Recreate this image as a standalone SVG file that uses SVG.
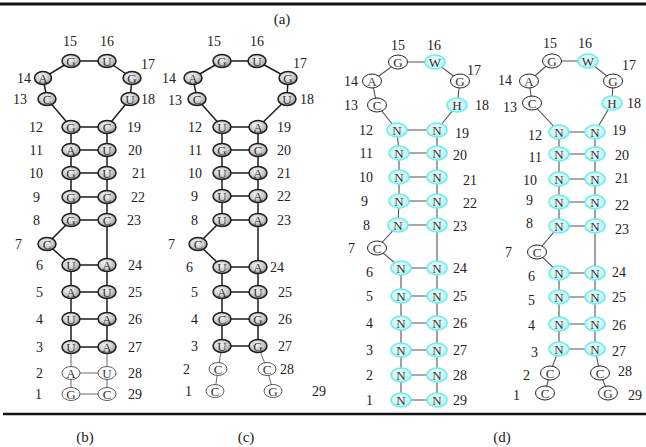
<svg xmlns="http://www.w3.org/2000/svg" width="646" height="447" viewBox="0 0 646 447" font-family="'Liberation Serif', 'Times New Roman', Times, serif">
<defs>
<radialGradient id="gg" cx="0.42" cy="0.38" r="0.65">
<stop offset="0" stop-color="#f4f4f4"/><stop offset="0.55" stop-color="#d0d0d0"/><stop offset="1" stop-color="#959595"/>
</radialGradient>
<radialGradient id="cg" cx="0.45" cy="0.4" r="0.65">
<stop offset="0" stop-color="#effefe"/><stop offset="1" stop-color="#b8f2f2"/>
</radialGradient>
</defs>
<style>
text{font-family:'Liberation Serif','Times New Roman',Times,serif;fill:#222}
.node text{font-size:13px;text-anchor:middle;fill:#333}
.g ellipse{fill:url(#gg);stroke:#1c1c1c;stroke-width:1.5}
.w ellipse{fill:#fff;stroke:#333;stroke-width:0.8}
.wd ellipse{fill:#fff;stroke:#222;stroke-width:1}
.c ellipse{fill:url(#cg);stroke:#6eeeee;stroke-width:1.6}
.lk{fill:none;stroke:#1c1c1c;stroke-width:1.5}
.lt{fill:none;stroke:#444;stroke-width:0.8}
.ld{fill:none;stroke:#555;stroke-width:1.1}
.num{font-size:14px}
.e{text-anchor:end}
.m{text-anchor:middle}
.cap{font-size:15px;text-anchor:middle}
</style>
<g id="rules">
<line x1="0" y1="4" x2="646" y2="4" stroke="#111" stroke-width="3"/>
<line x1="3" y1="414" x2="646" y2="414" stroke="#111" stroke-width="2.5"/>
</g>
<g id="connectors">
<path class="lk" d="M71,61 H107 M71,61 L43,78 L47,99 L71,127 M107,61 L132,78 L130,99 L107,127 M71,127 V220 L47,244 L71,265 V347 M107,127 V347 M71,127 H107 M71,150 H107 M71,173 H107 M71,197 H107 M71,220 H107 M71,265 H107 M71,292 H107 M71,319 H107 M71,347 H107"/>
<path class="lt" d="M71,347 V394 M107,347 V394 M71,373 H107 M71,394 H107"/>
<path class="lk" d="M222,61 H257 M222,61 L193,78 L197,99 L222,127 M257,61 L288,78 L287,99 L258,127 M222,127 V220 L198,244 L222,267 V346 M258,127 V346 M222,127 H258 M222,150 H258 M222,173 H258 M222,196 H258 M222,220 H258 M222,267 H258 M222,292 H258 M222,319 H258 M222,346 H258"/>
<path class="lt" d="M222,346 L218,369 L215,391 M258,346 L267,369 L273,391"/>
<path class="ld" d="M398,62 H435 M398,62 L372,81 L377,105 L397,130 M435,62 L460,81 L457,105 L437,130 M397,130 L399,153 V201 L398,225 L377,248 L401,268 V400 M437,130 V400 M397,130 H437 M399,153 H437 M399,177 H437 M399,201 H437 M398,225 H437 M401,268 H437 M401,296 H437 M401,323 H437 M401,350 H437 M401,375 H437 M401,400 H437"/>
<path class="ld" d="M552,61 H588 M552,61 L529,81 L532,103 L559,132 M588,61 L613,81 L612,103 L595,132 M559,132 V226 L537,252 L559,273 V349 L550,373 L545,393 M595,132 V349 L600,373 L608,393 M559,132 H595 M559,154 H595 M559,179 H595 M559,202 H595 M559,226 H595 M559,273 H595 M559,297 H595 M559,324 H595 M559,349 H595"/>
</g>
<!-- panel b -->
<g id="b15" class="node g"><ellipse cx="71" cy="61" rx="9" ry="6.5"/><text x="71" y="65.5">G</text></g>
<g id="b16" class="node g"><ellipse cx="107" cy="61" rx="9" ry="6.5"/><text x="107" y="65.5">U</text></g>
<g id="b14" class="node g"><ellipse cx="43" cy="78" rx="8.5" ry="6.5"/><text x="43" y="82.5">A</text></g>
<g id="b17" class="node g"><ellipse cx="132" cy="78" rx="9" ry="6.5"/><text x="132" y="82.5">G</text></g>
<g id="b13" class="node g"><ellipse cx="47" cy="99" rx="9" ry="6.5"/><text x="47" y="103.5">C</text></g>
<g id="b18" class="node g"><ellipse cx="130" cy="99" rx="9" ry="6.5"/><text x="130" y="103.5">U</text></g>
<g id="b12" class="node g"><ellipse cx="71" cy="127" rx="9" ry="6.5"/><text x="71" y="131.5">G</text></g>
<g id="b19" class="node g"><ellipse cx="107" cy="127" rx="9" ry="6.5"/><text x="107" y="131.5">C</text></g>
<g id="b11" class="node g"><ellipse cx="71" cy="150" rx="9" ry="6.5"/><text x="71" y="154.5">A</text></g>
<g id="b20" class="node g"><ellipse cx="107" cy="150" rx="9" ry="6.5"/><text x="107" y="154.5">U</text></g>
<g id="b10" class="node g"><ellipse cx="71" cy="173" rx="9" ry="6.5"/><text x="71" y="177.5">G</text></g>
<g id="b21" class="node g"><ellipse cx="107" cy="173" rx="9" ry="6.5"/><text x="107" y="177.5">U</text></g>
<g id="b9" class="node g"><ellipse cx="71" cy="197" rx="9" ry="6.5"/><text x="71" y="201.5">G</text></g>
<g id="b22" class="node g"><ellipse cx="107" cy="197" rx="9" ry="6.5"/><text x="107" y="201.5">C</text></g>
<g id="b8" class="node g"><ellipse cx="71" cy="220" rx="9" ry="6.5"/><text x="71" y="224.5">G</text></g>
<g id="b23" class="node g"><ellipse cx="107" cy="220" rx="9" ry="6.5"/><text x="107" y="224.5">C</text></g>
<g id="b7" class="node g"><ellipse cx="47" cy="244" rx="9" ry="6.5"/><text x="47" y="248.5">C</text></g>
<g id="b6" class="node g"><ellipse cx="71" cy="265" rx="9" ry="6.5"/><text x="71" y="269.5">U</text></g>
<g id="b24" class="node g"><ellipse cx="107" cy="265" rx="9" ry="6.5"/><text x="107" y="269.5">A</text></g>
<g id="b5" class="node g"><ellipse cx="71" cy="292" rx="9" ry="6.5"/><text x="71" y="296.5">A</text></g>
<g id="b25" class="node g"><ellipse cx="107" cy="292" rx="9" ry="6.5"/><text x="107" y="296.5">U</text></g>
<g id="b4" class="node g"><ellipse cx="71" cy="319" rx="9" ry="6.5"/><text x="71" y="323.5">U</text></g>
<g id="b26" class="node g"><ellipse cx="107" cy="319" rx="9" ry="6.5"/><text x="107" y="323.5">A</text></g>
<g id="b3" class="node g"><ellipse cx="71" cy="347" rx="9" ry="6.5"/><text x="71" y="351.5">U</text></g>
<g id="b27" class="node g"><ellipse cx="107" cy="347" rx="9" ry="6.5"/><text x="107" y="351.5">A</text></g>
<g id="b2" class="node w"><ellipse cx="71" cy="373" rx="9" ry="6.5"/><text x="71" y="377.5">A</text></g>
<g id="b28" class="node w"><ellipse cx="107" cy="373" rx="9" ry="6.5"/><text x="107" y="377.5">U</text></g>
<g id="b1" class="node w"><ellipse cx="71" cy="394" rx="9" ry="6.5"/><text x="71" y="398.5">G</text></g>
<g id="b29" class="node w"><ellipse cx="107" cy="394" rx="9" ry="6.5"/><text x="107" y="398.5">C</text></g>
<g id="b-labels" class="num">
<text x="70" y="46" class="m">15</text><text x="107" y="46" class="m">16</text>
<text x="141" y="69">17</text><text x="31" y="83" class="e">14</text><text x="27" y="104" class="e">13</text><text x="141" y="104">18</text>
<text x="43" y="132" class="e">12</text><text x="43" y="155" class="e">11</text><text x="43" y="178" class="e">10</text><text x="40" y="202" class="e">9</text><text x="40" y="225" class="e">8</text>
<text x="127" y="132">19</text><text x="128" y="155">20</text><text x="132" y="178">21</text><text x="131" y="202">22</text><text x="127" y="225">23</text>
<text x="22" y="249" class="e">7</text><text x="43" y="270" class="e">6</text><text x="43" y="297" class="e">5</text><text x="43" y="324" class="e">4</text><text x="43" y="352" class="e">3</text><text x="43" y="378" class="e">2</text><text x="42" y="399" class="e">1</text>
<text x="128" y="270">24</text><text x="128" y="297">25</text><text x="128" y="324">26</text><text x="128" y="352">27</text><text x="128" y="378">28</text><text x="128" y="399">29</text>
</g>
<!-- panel c -->
<g id="c15" class="node g"><ellipse cx="222" cy="61" rx="9" ry="6.5"/><text x="222" y="65.5">G</text></g>
<g id="c16" class="node g"><ellipse cx="257" cy="61" rx="9" ry="6.5"/><text x="257" y="65.5">U</text></g>
<g id="c14" class="node g"><ellipse cx="193" cy="78" rx="9" ry="6.5"/><text x="193" y="82.5">A</text></g>
<g id="c17" class="node g"><ellipse cx="288" cy="78" rx="9" ry="6.5"/><text x="288" y="82.5">G</text></g>
<g id="c13" class="node g"><ellipse cx="197" cy="99" rx="9" ry="6.5"/><text x="197" y="103.5">C</text></g>
<g id="c18" class="node g"><ellipse cx="287" cy="99" rx="9" ry="6.5"/><text x="287" y="103.5">U</text></g>
<g id="c12" class="node g"><ellipse cx="222" cy="127" rx="9" ry="6.5"/><text x="222" y="131.5">U</text></g>
<g id="c19" class="node g"><ellipse cx="258" cy="127" rx="9" ry="6.5"/><text x="258" y="131.5">A</text></g>
<g id="c11" class="node g"><ellipse cx="222" cy="150" rx="9" ry="6.5"/><text x="222" y="154.5">G</text></g>
<g id="c20" class="node g"><ellipse cx="258" cy="150" rx="9" ry="6.5"/><text x="258" y="154.5">C</text></g>
<g id="c10" class="node g"><ellipse cx="222" cy="173" rx="9" ry="6.5"/><text x="222" y="177.5">U</text></g>
<g id="c21" class="node g"><ellipse cx="258" cy="173" rx="9" ry="6.5"/><text x="258" y="177.5">A</text></g>
<g id="c9" class="node g"><ellipse cx="222" cy="196" rx="9" ry="6.5"/><text x="222" y="200.5">U</text></g>
<g id="c22" class="node g"><ellipse cx="258" cy="196" rx="9" ry="6.5"/><text x="258" y="200.5">A</text></g>
<g id="c8" class="node g"><ellipse cx="222" cy="220" rx="9" ry="6.5"/><text x="222" y="224.5">U</text></g>
<g id="c23" class="node g"><ellipse cx="258" cy="220" rx="9" ry="6.5"/><text x="258" y="224.5">A</text></g>
<g id="c7" class="node g"><ellipse cx="198" cy="244" rx="9" ry="6.5"/><text x="198" y="248.5">C</text></g>
<g id="c6" class="node g"><ellipse cx="222" cy="267" rx="9" ry="6.5"/><text x="222" y="271.5">U</text></g>
<g id="c24" class="node g"><ellipse cx="258" cy="267" rx="9" ry="6.5"/><text x="258" y="271.5">A</text></g>
<g id="c5" class="node g"><ellipse cx="222" cy="292" rx="9" ry="6.5"/><text x="222" y="296.5">A</text></g>
<g id="c25" class="node g"><ellipse cx="258" cy="292" rx="9" ry="6.5"/><text x="258" y="296.5">U</text></g>
<g id="c4" class="node g"><ellipse cx="222" cy="319" rx="9" ry="6.5"/><text x="222" y="323.5">C</text></g>
<g id="c26" class="node g"><ellipse cx="258" cy="319" rx="9" ry="6.5"/><text x="258" y="323.5">G</text></g>
<g id="c3" class="node g"><ellipse cx="222" cy="346" rx="9" ry="6.5"/><text x="222" y="350.5">U</text></g>
<g id="c27" class="node g"><ellipse cx="258" cy="346" rx="9" ry="6.5"/><text x="258" y="350.5">G</text></g>
<g id="c2" class="node w"><ellipse cx="218" cy="369" rx="9" ry="6.5"/><text x="218" y="373.5">C</text></g>
<g id="c28" class="node w"><ellipse cx="267" cy="369" rx="9" ry="6.5"/><text x="267" y="373.5">C</text></g>
<g id="c1" class="node w"><ellipse cx="215" cy="391" rx="9" ry="6.5"/><text x="215" y="395.5">C</text></g>
<g id="c29" class="node w"><ellipse cx="273" cy="391" rx="9" ry="6.5"/><text x="273" y="395.5">G</text></g>
<g id="c-labels" class="num">
<text x="214" y="46" class="m">15</text><text x="257" y="46" class="m">16</text>
<text x="293" y="68">17</text><text x="176" y="83" class="e">14</text><text x="182" y="105" class="e">13</text><text x="300" y="104">18</text>
<text x="202" y="132" class="e">12</text><text x="202" y="155" class="e">11</text><text x="202" y="178" class="e">10</text><text x="198" y="201" class="e">9</text><text x="198" y="225" class="e">8</text>
<text x="277" y="132">19</text><text x="277" y="155">20</text><text x="277" y="178">21</text><text x="277" y="201">22</text><text x="277" y="225">23</text>
<text x="175" y="249" class="e">7</text><text x="193" y="272" class="e">6</text><text x="198" y="297" class="e">5</text><text x="198" y="324" class="e">4</text><text x="198" y="351" class="e">3</text><text x="190" y="374" class="e">2</text><text x="192" y="396" class="e">1</text>
<text x="270" y="272">24</text><text x="278" y="297">25</text><text x="278" y="324">26</text><text x="278" y="351">27</text><text x="280" y="374">28</text><text x="312" y="396">29</text>
</g>
<!-- panel d left -->
<g id="d15" class="node wd"><ellipse cx="398" cy="62" rx="9.5" ry="7"/><text x="398" y="66.5">G</text></g>
<g id="d16" class="node c"><ellipse cx="435" cy="62" rx="10" ry="7"/><text x="435" y="66.5">W</text></g>
<g id="d14" class="node wd"><ellipse cx="372" cy="81" rx="9.5" ry="7"/><text x="372" y="85.5">A</text></g>
<g id="d17" class="node wd"><ellipse cx="460" cy="81" rx="9.5" ry="7"/><text x="460" y="85.5">G</text></g>
<g id="d13" class="node wd"><ellipse cx="377" cy="105" rx="9.5" ry="7"/><text x="377" y="109.5">C</text></g>
<g id="d18" class="node c"><ellipse cx="457" cy="105" rx="10" ry="7"/><text x="457" y="109.5">H</text></g>
<g id="d12" class="node c"><ellipse cx="397" cy="130" rx="10" ry="7"/><text x="397" y="134.5">N</text></g>
<g id="d19" class="node c"><ellipse cx="437" cy="130" rx="10" ry="7"/><text x="437" y="134.5">N</text></g>
<g id="d11" class="node c"><ellipse cx="399" cy="153" rx="10" ry="7"/><text x="399" y="157.5">N</text></g>
<g id="d20" class="node c"><ellipse cx="437" cy="153" rx="10" ry="7"/><text x="437" y="157.5">N</text></g>
<g id="d10" class="node c"><ellipse cx="399" cy="177" rx="10" ry="7"/><text x="399" y="181.5">N</text></g>
<g id="d21" class="node c"><ellipse cx="437" cy="177" rx="10" ry="7"/><text x="437" y="181.5">N</text></g>
<g id="d9" class="node c"><ellipse cx="399" cy="201" rx="10" ry="7"/><text x="399" y="205.5">N</text></g>
<g id="d22" class="node c"><ellipse cx="437" cy="201" rx="10" ry="7"/><text x="437" y="205.5">N</text></g>
<g id="d8" class="node c"><ellipse cx="398" cy="225" rx="10" ry="7"/><text x="398" y="229.5">N</text></g>
<g id="d23" class="node c"><ellipse cx="437" cy="225" rx="10" ry="7"/><text x="437" y="229.5">N</text></g>
<g id="d7" class="node wd"><ellipse cx="377" cy="248" rx="9.5" ry="7"/><text x="377" y="252.5">C</text></g>
<g id="d6" class="node c"><ellipse cx="401" cy="268" rx="10" ry="7"/><text x="401" y="272.5">N</text></g>
<g id="d24" class="node c"><ellipse cx="437" cy="268" rx="10" ry="7"/><text x="437" y="272.5">N</text></g>
<g id="d5" class="node c"><ellipse cx="401" cy="296" rx="10" ry="7"/><text x="401" y="300.5">N</text></g>
<g id="d25" class="node c"><ellipse cx="437" cy="296" rx="10" ry="7"/><text x="437" y="300.5">N</text></g>
<g id="d4" class="node c"><ellipse cx="401" cy="323" rx="10" ry="7"/><text x="401" y="327.5">N</text></g>
<g id="d26" class="node c"><ellipse cx="437" cy="323" rx="10" ry="7"/><text x="437" y="327.5">N</text></g>
<g id="d3" class="node c"><ellipse cx="401" cy="350" rx="10" ry="7"/><text x="401" y="354.5">N</text></g>
<g id="d27" class="node c"><ellipse cx="437" cy="350" rx="10" ry="7"/><text x="437" y="354.5">N</text></g>
<g id="d2" class="node c"><ellipse cx="401" cy="375" rx="10" ry="7"/><text x="401" y="379.5">N</text></g>
<g id="d28" class="node c"><ellipse cx="437" cy="375" rx="10" ry="7"/><text x="437" y="379.5">N</text></g>
<g id="d1" class="node c"><ellipse cx="401" cy="400" rx="10" ry="7"/><text x="401" y="404.5">N</text></g>
<g id="d29" class="node c"><ellipse cx="437" cy="400" rx="10" ry="7"/><text x="437" y="404.5">N</text></g>
<g id="d-labels" class="num">
<text x="398" y="50" class="m">15</text><text x="434" y="50" class="m">16</text>
<text x="467" y="75">17</text><text x="358" y="86" class="e">14</text><text x="358" y="110" class="e">13</text><text x="475" y="110">18</text>
<text x="373" y="135" class="e">12</text><text x="373" y="158" class="e">11</text><text x="373" y="182" class="e">10</text><text x="368" y="206" class="e">9</text><text x="370" y="230" class="e">8</text>
<text x="455" y="138">19</text><text x="453" y="160">20</text><text x="463" y="185">21</text><text x="463" y="208">22</text><text x="453" y="231">23</text>
<text x="355" y="253" class="e">7</text><text x="373" y="277" class="e">6</text><text x="373" y="301" class="e">5</text><text x="373" y="328" class="e">4</text><text x="373" y="355" class="e">3</text><text x="373" y="380" class="e">2</text><text x="373" y="405" class="e">1</text>
<text x="453" y="273">24</text><text x="453" y="301">25</text><text x="453" y="328">26</text><text x="453" y="355">27</text><text x="453" y="380">28</text><text x="453" y="405">29</text>
</g>
<!-- panel d right -->
<g id="e15" class="node wd"><ellipse cx="552" cy="61" rx="9.5" ry="7"/><text x="552" y="65.5">G</text></g>
<g id="e16" class="node c"><ellipse cx="588" cy="61" rx="10" ry="7"/><text x="588" y="65.5">W</text></g>
<g id="e14" class="node wd"><ellipse cx="529" cy="81" rx="9.5" ry="7"/><text x="529" y="85.5">A</text></g>
<g id="e17" class="node wd"><ellipse cx="613" cy="81" rx="9.5" ry="7"/><text x="613" y="85.5">G</text></g>
<g id="e13" class="node wd"><ellipse cx="532" cy="103" rx="9.5" ry="7"/><text x="532" y="107.5">C</text></g>
<g id="e18" class="node c"><ellipse cx="612" cy="103" rx="10" ry="7"/><text x="612" y="107.5">H</text></g>
<g id="e12" class="node c"><ellipse cx="559" cy="132" rx="10" ry="7"/><text x="559" y="136.5">N</text></g>
<g id="e19" class="node c"><ellipse cx="595" cy="132" rx="10" ry="7"/><text x="595" y="136.5">N</text></g>
<g id="e11" class="node c"><ellipse cx="559" cy="154" rx="10" ry="7"/><text x="559" y="158.5">N</text></g>
<g id="e20" class="node c"><ellipse cx="595" cy="154" rx="10" ry="7"/><text x="595" y="158.5">N</text></g>
<g id="e10" class="node c"><ellipse cx="559" cy="179" rx="10" ry="7"/><text x="559" y="183.5">N</text></g>
<g id="e21" class="node c"><ellipse cx="595" cy="179" rx="10" ry="7"/><text x="595" y="183.5">N</text></g>
<g id="e9" class="node c"><ellipse cx="559" cy="202" rx="10" ry="7"/><text x="559" y="206.5">N</text></g>
<g id="e22" class="node c"><ellipse cx="595" cy="202" rx="10" ry="7"/><text x="595" y="206.5">N</text></g>
<g id="e8" class="node c"><ellipse cx="559" cy="226" rx="10" ry="7"/><text x="559" y="230.5">N</text></g>
<g id="e23" class="node c"><ellipse cx="595" cy="226" rx="10" ry="7"/><text x="595" y="230.5">N</text></g>
<g id="e7" class="node wd"><ellipse cx="537" cy="252" rx="9.5" ry="7"/><text x="537" y="256.5">C</text></g>
<g id="e6" class="node c"><ellipse cx="559" cy="273" rx="10" ry="7"/><text x="559" y="277.5">N</text></g>
<g id="e24" class="node c"><ellipse cx="595" cy="273" rx="10" ry="7"/><text x="595" y="277.5">N</text></g>
<g id="e5" class="node c"><ellipse cx="559" cy="297" rx="10" ry="7"/><text x="559" y="301.5">N</text></g>
<g id="e25" class="node c"><ellipse cx="595" cy="297" rx="10" ry="7"/><text x="595" y="301.5">N</text></g>
<g id="e4" class="node c"><ellipse cx="559" cy="324" rx="10" ry="7"/><text x="559" y="328.5">N</text></g>
<g id="e26" class="node c"><ellipse cx="595" cy="324" rx="10" ry="7"/><text x="595" y="328.5">N</text></g>
<g id="e3" class="node c"><ellipse cx="559" cy="349" rx="10" ry="7"/><text x="559" y="353.5">N</text></g>
<g id="e27" class="node c"><ellipse cx="595" cy="349" rx="10" ry="7"/><text x="595" y="353.5">N</text></g>
<g id="e2" class="node wd"><ellipse cx="550" cy="373" rx="9.5" ry="7"/><text x="550" y="377.5">C</text></g>
<g id="e28" class="node wd"><ellipse cx="600" cy="373" rx="9.5" ry="7"/><text x="600" y="377.5">C</text></g>
<g id="e1" class="node wd"><ellipse cx="545" cy="393" rx="9.5" ry="7"/><text x="545" y="397.5">C</text></g>
<g id="e29" class="node wd"><ellipse cx="608" cy="393" rx="9.5" ry="7"/><text x="608" y="397.5">G</text></g>
<g id="e-labels" class="num">
<text x="550" y="48" class="m">15</text><text x="585" y="48" class="m">16</text>
<text x="622" y="70">17</text><text x="512" y="85" class="e">14</text><text x="517" y="112" class="e">13</text><text x="627" y="108">18</text>
<text x="542" y="140" class="e">12</text><text x="542" y="162" class="e">11</text><text x="537" y="185" class="e">10</text><text x="533" y="205" class="e">9</text><text x="533" y="228" class="e">8</text>
<text x="612" y="135">19</text><text x="615" y="160">20</text><text x="615" y="183">21</text><text x="615" y="210">22</text><text x="615" y="234">23</text>
<text x="512" y="257" class="e">7</text><text x="535" y="281" class="e">6</text><text x="535" y="305" class="e">5</text><text x="535" y="330" class="e">4</text><text x="538" y="357" class="e">3</text><text x="530" y="380" class="e">2</text><text x="520" y="400" class="e">1</text>
<text x="612" y="277">24</text><text x="612" y="302">25</text><text x="612" y="330">26</text><text x="612" y="356">27</text><text x="618" y="376">28</text><text x="628" y="400">29</text>
</g>
<g id="captions">
<text x="282" y="24" class="cap">(a)</text>
<text x="85" y="442" class="cap">(b)</text>
<text x="246" y="442" class="cap">(c)</text>
<text x="502" y="442" class="cap">(d)</text>
</g>
</svg>
